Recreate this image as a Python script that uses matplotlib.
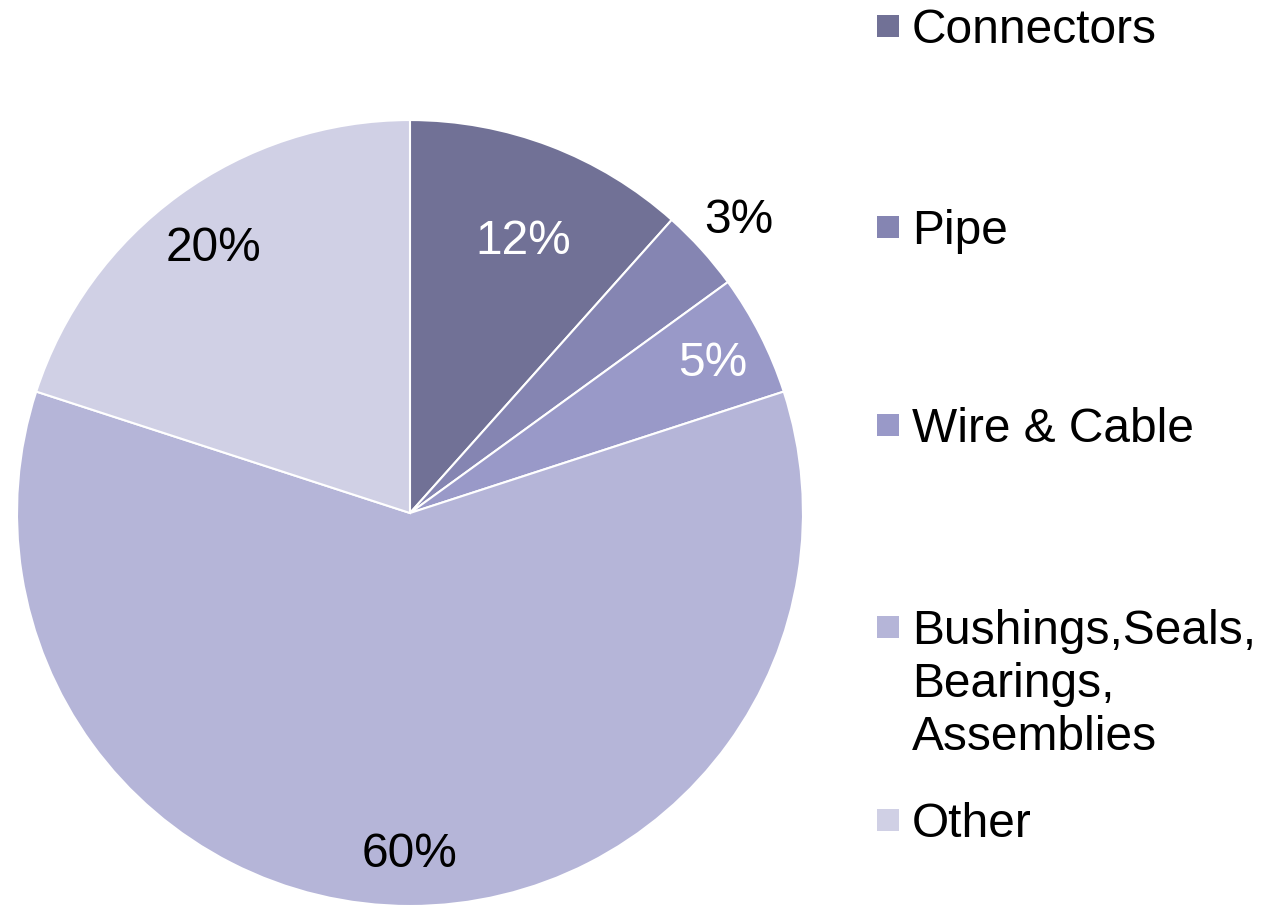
import numpy as np
import matplotlib
matplotlib.use("Agg")
import matplotlib.pyplot as plt
from matplotlib.patches import Rectangle

plt.rcParams['font.family'] = ['Liberation Sans', 'DejaVu Sans']

# Data
categories = ["Connectors", "Pipe", "Wire & Cable", "Bushings,Seals,\nBearings,\nAssemblies", "Other"]
shares = [11.6, 3.4, 5.0, 60.0, 20.0]
pct_labels = ["12%", "3%", "5%", "60%", "20%"]
colors = ["#717196", "#8585b2", "#9999c8", "#b5b5d8", "#d0d0e5"]
label_colors = ["white", "black", "white", "black", "black"]
label_dist = [0.75, 1.12, 0.86, 0.87, 0.84]
label_turn = [-1.8, -0.5, -0.8, 0.0, 0.6]  # small angle nudges, degrees

fig = plt.figure(figsize=(12.62, 9.08), dpi=100)
ax = fig.add_axes([0.01347, 0.0022, 0.6228, 0.8656])

wedges, _ = ax.pie(shares, colors=colors, startangle=90, counterclock=False,
                   radius=1.0,
                   wedgeprops=dict(edgecolor="white", linewidth=1.5))
ax.set_xlim(-1, 1)
ax.set_ylim(-1, 1)
ax.set_aspect("equal")
ax.axis("off")

# percentage labels
for w, lab, col, d, t in zip(wedges, pct_labels, label_colors, label_dist, label_turn):
    ang = np.deg2rad((w.theta1 + w.theta2) / 2 + t)
    ax.text(d * np.cos(ang), d * np.sin(ang), lab, ha="center",
            va="center", fontsize=34.5, color=col, clip_on=False)

# legend drawn by hand
W, H = 1262, 908
baselines = [43, 244, 442, 644, 837]
line_step = 53
for cat, col, b in zip(categories, colors, baselines):
    yc = b - 17
    fig.patches.append(Rectangle((877 / W, 1 - (yc + 11) / H), 22 / W, 22 / H,
                                 transform=fig.transFigure, facecolor=col,
                                 edgecolor="none"))
    for i, line in enumerate(cat.split("\n")):
        fig.text(912 / W, 1 - (b + i * line_step) / H, line, ha="left",
                 va="baseline", fontsize=34.5, color="black")

fig.savefig("out.png", dpi=100, facecolor="white")
